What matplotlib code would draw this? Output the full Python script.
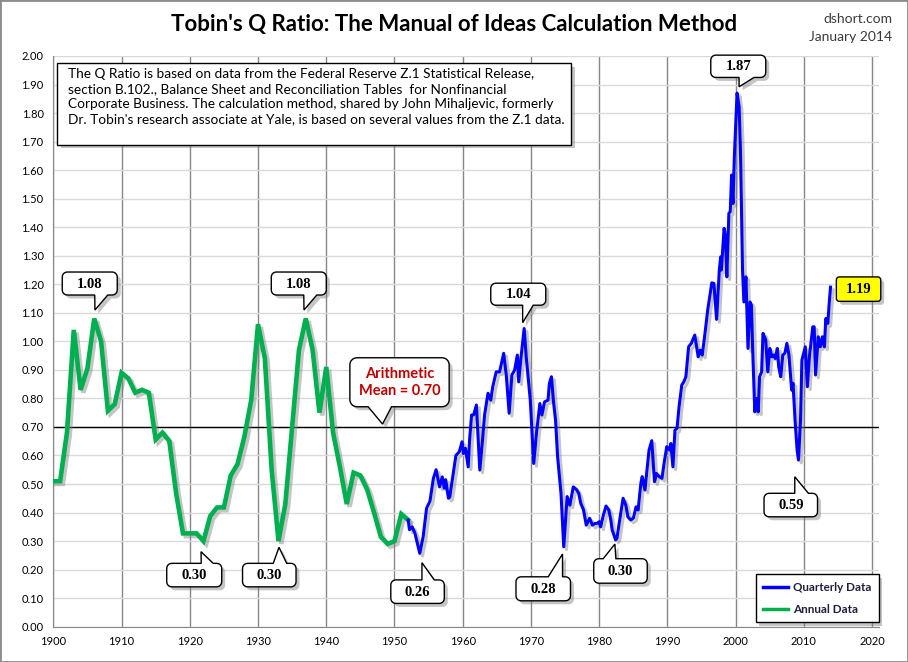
import numpy as np
import matplotlib
matplotlib.use('Agg')
import matplotlib.pyplot as plt
from matplotlib.patches import Polygon, Rectangle, FancyBboxPatch
from matplotlib.transforms import IdentityTransform
from matplotlib.lines import Line2D
import matplotlib.patheffects as pe

# 年度数据 (1900-1952)
annual_years = list(range(1900, 1953))
annual_q = [0.51, 0.51, 0.68, 1.04, 0.83, 0.905, 1.08, 1.00, 0.757, 0.78,
            0.89, 0.87, 0.82, 0.83, 0.82, 0.656, 0.68, 0.65, 0.467, 0.327,
            0.327, 0.327, 0.30, 0.388, 0.418, 0.418, 0.53, 0.57, 0.666, 0.794,
            1.06, 0.94, 0.55, 0.30, 0.43, 0.70, 0.97, 1.08, 0.97, 0.75,
            0.91, 0.68, 0.56, 0.43, 0.54, 0.53, 0.48, 0.40, 0.315, 0.29,
            0.30, 0.395, 0.374]

# 季度数据 (1952-2013)
quarter_years = [
    1952.0, 1952.2, 1952.6, 1953.0, 1953.7, 1954.2, 1954.7, 1955.2, 1955.7, 1956.1,
    1956.6, 1957.0, 1957.3, 1957.5, 1957.9, 1958.1, 1958.6, 1959.0, 1959.5, 1959.9,
    1960.1, 1960.4, 1960.8, 1961.0, 1961.3, 1961.6, 1962.0, 1962.5, 1962.9, 1963.2,
    1963.7, 1964.1, 1964.4, 1964.9, 1965.4, 1966.0, 1966.4, 1966.8, 1967.2, 1967.6,
    1968.0, 1968.2, 1968.5, 1969.0, 1969.3, 1969.9, 1970.4, 1970.8, 1971.3, 1971.6,
    1972.0, 1972.5, 1972.7, 1973.0, 1973.3, 1973.6, 1973.9, 1974.4, 1974.8, 1975.3,
    1975.7, 1976.2, 1976.7, 1977.0, 1977.3, 1977.7, 1978.1, 1978.6, 1979.0, 1979.4,
    1979.7, 1980.0, 1980.2, 1980.6, 1981.0, 1981.4, 1981.7, 1981.9, 1982.4, 1982.6,
    1983.0, 1983.5, 1983.9, 1984.2, 1984.6, 1985.0, 1985.4, 1985.7, 1986.1, 1986.3,
    1986.7, 1987.0, 1987.3, 1987.7, 1988.1, 1988.4, 1988.8, 1989.2, 1989.5, 1989.9,
    1990.3, 1990.5, 1990.8, 1991.1, 1991.4, 1991.7, 1992.1, 1992.4, 1992.7, 1993.1,
    1993.5, 1994.0, 1994.5, 1994.8, 1995.1, 1995.5, 1995.9, 1996.5, 1996.8, 1997.2,
    1997.6, 1997.8, 1997.9, 1998.3, 1998.5, 1998.7, 1999.0, 1999.2, 1999.4, 1999.6,
    1999.8, 2000.2, 2000.5, 2000.7, 2001.0, 2001.2, 2001.5, 2001.8, 2002.1, 2002.3,
    2002.5, 2002.8, 2003.0, 2003.3, 2003.5, 2003.8, 2004.0, 2004.4, 2004.7, 2005.0,
    2005.3, 2005.6, 2005.8, 2006.1, 2006.3, 2006.6, 2006.9, 2007.2, 2007.5, 2007.8,
    2008.2, 2008.4, 2008.7, 2009.0, 2009.2, 2009.5, 2009.7, 2010.2, 2010.5, 2010.8,
    2011.3, 2011.5, 2011.7, 2012.1, 2012.4, 2012.7, 2013.0, 2013.2, 2013.5, 2013.7,
    2013.9]
quarter_q = [
    0.374, 0.34, 0.35, 0.327, 0.257, 0.315, 0.415, 0.44, 0.52, 0.55,
    0.49, 0.525, 0.485, 0.515, 0.45, 0.455, 0.537, 0.60, 0.613, 0.648,
    0.607, 0.625, 0.56, 0.654, 0.742, 0.742, 0.777, 0.549, 0.654, 0.742,
    0.818, 0.794, 0.841, 0.893, 0.893, 0.958, 0.876, 0.748, 0.882, 0.899,
    0.952, 0.858, 0.935, 1.045, 0.946, 0.794, 0.572, 0.677, 0.782, 0.742,
    0.788, 0.794, 0.853, 0.876, 0.788, 0.724, 0.596, 0.467, 0.28, 0.456,
    0.426, 0.49, 0.48, 0.467, 0.432, 0.409, 0.356, 0.38, 0.356, 0.362,
    0.362, 0.368, 0.35, 0.39, 0.423, 0.409, 0.374, 0.339, 0.304, 0.31,
    0.374, 0.45, 0.426, 0.385, 0.374, 0.38, 0.42, 0.409, 0.502, 0.526,
    0.479, 0.549, 0.619, 0.652, 0.508, 0.537, 0.526, 0.52, 0.572, 0.631,
    0.619, 0.642, 0.56, 0.689, 0.695, 0.771, 0.847, 0.858, 0.876, 0.981,
    0.993, 1.022, 0.946, 0.969, 0.952, 1.028, 1.11, 1.205, 1.203, 1.077,
    1.25, 1.296, 1.25, 1.396, 1.367, 1.226, 1.449, 1.454, 1.583, 1.483,
    1.647, 1.87, 1.822, 1.67, 1.25, 1.138, 1.226, 0.975, 1.138, 1.127,
    0.963, 0.753, 0.80, 0.753, 0.876, 0.893, 1.028, 1.005, 0.893, 0.975,
    0.946, 0.952, 0.94, 0.975, 0.911, 0.876, 0.952, 0.958, 0.993, 0.952,
    0.829, 0.853, 0.724, 0.619, 0.584, 0.724, 0.934, 0.981, 0.841, 0.946,
    1.051, 1.051, 0.882, 1.016, 0.981, 1.016, 0.981, 1.08, 1.063, 1.133,
    1.19]

mean_q = 0.70
x_ticks = list(range(1900, 2021, 10))
y_ticks = [i / 10 for i in range(0, 21)]

note = ("The Q Ratio is based on data from the Federal Reserve Z.1 Statistical Release,\n"
        "section B.102., Balance Sheet and Reconciliation Tables  for Nonfinancial\n"
        "Corporate Business. The calculation method, shared by John Mihaljevic, formerly\n"
        "Dr. Tobin's research associate at Yale, is based on several values from the Z.1 data.")

# 标注: (x, y, 文本, 框中心偏移dx, dy, 宽, 高, 尖端偏移, 楔形底边, 楔形在框的哪一边)
callouts = [
    (1906, 1.08, '1.08', -4.5, 35, 55, 23, (0.7, 8.5), (5, 18), 'bottom'),
    (1937, 1.08, '1.08', -7, 35, 55, 23, (-1.8, 8.5), (5, 18), 'bottom'),
    (1922, 0.30, '0.30', -9.2, -34, 55, 23.5, (-2.4, -10.6), (7, 19), 'top'),
    (1933, 0.30, '0.30', -9.2, -34, 53.5, 23.5, (0.5, -6.2), (4, 17.4), 'top'),
    (1953.7, 0.257, '0.26', -2.2, -38.3, 53.5, 23.5, (2.2, -9.3), (4.4, 16.7), 'top'),
    (1969.0, 1.045, '1.04', -5.9, 34.3, 55, 22, (-1.5, 5.8), (4.4, 15), 'bottom'),
    (1974.8, 0.28, '0.28', -20.5, -42, 54.5, 24, (-1.2, -7.2), (5, 19.3), 'top'),
    (1982.4, 0.304, '0.30', 4.9, -31, 53.5, 24.5, (-0.7, -4.1), (-17.3, -4.6), 'top'),
    (2000.2, 1.87, '1.87', 1.2, 26.8, 55, 22.3, (2, 6.3), (0.8, 15.8), 'bottom'),
    (2009.2, 0.584, '0.59', -7.7, -45, 53.5, 23.5, (-3.7, -16.7), (4, 17.6), 'top'),
]

plt.rcParams['font.family'] = ['Lato', 'DejaVu Sans']

fig = plt.figure(figsize=(9.08, 6.62), dpi=100)
fig.patch.set_facecolor('white')
ax = fig.add_axes([53.3 / 908, 1 - 626.7 / 662, (879 - 53.3) / 908, (626.7 - 56) / 662])

shadow_line = [pe.SimpleLineShadow(offset=(2, -2), shadow_color='#7f7f7f', alpha=0.45), pe.Normal()]
ax.plot(annual_years, annual_q, color='#00B050', lw=3.3, solid_joinstyle='miter', zorder=3,
        path_effects=shadow_line)
ax.plot(quarter_years, quarter_q, color='#0000FF', lw=2.2, zorder=4, path_effects=shadow_line)
ax.axhline(mean_q, color='black', lw=1, zorder=2.5)

ax.set_xlim(1900, 2021)
ax.set_ylim(0, 2.0)
ax.set_xticks(x_ticks)
ax.set_yticks(y_ticks)
ax.set_yticklabels([f'{v:.2f}' for v in y_ticks])
ax.tick_params(length=0, labelsize=8, pad=7)
ax.set_axisbelow(True)
ax.yaxis.grid(True, color='#D9D9D9', lw=1)
ax.xaxis.grid(True, color='#868686', lw=1)
for s in ['top', 'right']:
    ax.spines[s].set_visible(False)
for s in ['left', 'bottom']:
    ax.spines[s].set_color('#868686')

box_shadow = [pe.SimplePatchShadow(offset=(2.5, -2.5), shadow_rgbFace='#7f7f7f', alpha=0.45), pe.Normal()]


def callout_poly(cx, cy, w, h, r, side, base, tip):
    # 圆角框 + 楔形, 屏幕像素坐标 (y 向上)
    l, rt, b, t = cx - w / 2, cx + w / 2, cy - h / 2, cy + h / 2

    def arc(xc, yc, a0, a1):
        return [(xc + r * np.cos(a), yc + r * np.sin(a)) for a in np.radians(np.linspace(a0, a1, 6))]

    pts = arc(l + r, b + r, 180, 270)
    if side == 'bottom':
        pts += [(cx + base[0], b), tip, (cx + base[1], b)]
    pts += arc(rt - r, b + r, 270, 360)
    pts += arc(rt - r, t - r, 0, 90)
    if side == 'top':
        pts += [(cx + base[1], t), tip, (cx + base[0], t)]
    pts += arc(l + r, t - r, 90, 180)
    return pts


fig.canvas.draw()
for x, y, label, dx, dy, w, h, tipoff, base, side in callouts:
    px, py = ax.transData.transform((x, y))
    cx, cy = px + dx, py + dy
    tip = (px + tipoff[0], py + tipoff[1])
    pts = callout_poly(cx, cy, w, h, 5, side, base, tip)
    ax.add_patch(Polygon(pts, closed=True, transform=IdentityTransform(), fc='white', ec='black',
                         lw=1, zorder=6, clip_on=False, path_effects=box_shadow))
    ax.text(cx, cy - 0.5, label, transform=IdentityTransform(), ha='center', va='center',
            fontsize=10.5, fontweight='bold', family='Liberation Serif', zorder=7)

# 均值标注
px, py = ax.transData.transform((1948.2, mean_q))
cx, cy = px + 17.3, py + 44.7
pts = callout_poly(cx, cy, 99.3, 49, 7, 'bottom', (-31.4, -8), (px + 0.3, py + 2.9))
ax.add_patch(Polygon(pts, closed=True, transform=IdentityTransform(), fc='white', ec='black',
                     lw=1, zorder=6, clip_on=False, path_effects=box_shadow))
ax.text(cx, cy, 'Arithmetic\nMean = 0.70', transform=IdentityTransform(), ha='center',
        va='center', fontsize=10.5, fontweight='bold', color='#C00000', linespacing=1.3, zorder=7)

# 最新值 1.19
px, py = ax.transData.transform((quarter_years[-1], quarter_q[-1]))
cx, cy = px + 28, py - 2
ax.add_patch(FancyBboxPatch((cx - 19.2, cy - 9.2), 38.4, 18.4,
                            boxstyle='round,pad=3', transform=IdentityTransform(),
                            fc='#FFFF00', ec='black', lw=1, zorder=6, clip_on=False,
                            path_effects=box_shadow))
ax.text(cx, cy - 0.5, f'{quarter_q[-1]:.2f}', transform=IdentityTransform(), ha='center',
        va='center', fontsize=10.5, fontweight='bold', family='Liberation Serif', zorder=7)

# 说明文字框
fig.patches.append(Rectangle((57.3, 662 - 145), 571.3 - 57.3, 145 - 63.3,
                             transform=IdentityTransform(), fc='white', ec='black', lw=1,
                             zorder=6, path_effects=box_shadow))
fig.text(67.5 / 908, 1 - 68 / 662, note, ha='left', va='top', fontsize=9.85,
         linespacing=1.29, zorder=7)

# 图例
handles = [Line2D([], [], color='#0000FF', lw=2.5), Line2D([], [], color='#00B050', lw=2.5)]
leg = ax.legend(handles, ['Quarterly Data', 'Annual Data'], loc='lower right',
                bbox_to_anchor=(1.0, 4.4 / 570.7), borderaxespad=0, fancybox=False,
                edgecolor='black', framealpha=1, handlelength=2.1,
                labelspacing=0.95, borderpad=0.65, handletextpad=0.45,
                prop={'weight': 'bold', 'size': 8.4})
leg.get_frame().set_linewidth(1)
leg.get_frame().set_path_effects(box_shadow)
leg.set_zorder(8)
for t in leg.get_texts():
    t.set_color('#1F1F3F')

# 标题
fig.text(0.5, 1 - 25 / 662, "Tobin's Q Ratio: The Manual of Ideas Calculation Method",
         ha='center', va='center', fontsize=16, fontweight='bold')
fig.text(892 / 908, 1 - 19 / 662, 'dshort.com', ha='right', va='center', fontsize=10,
         color='#3a3a3a')
fig.text(892 / 908, 1 - 37 / 662, 'January 2014', ha='right', va='center', fontsize=10,
         color='#3a3a3a')

# 外边框
fig.patches.append(Rectangle((0, 0), 1, 1, transform=fig.transFigure, fill=False,
                             ec='#8c8c8c', lw=2))

fig.savefig('out.png', dpi=100)
